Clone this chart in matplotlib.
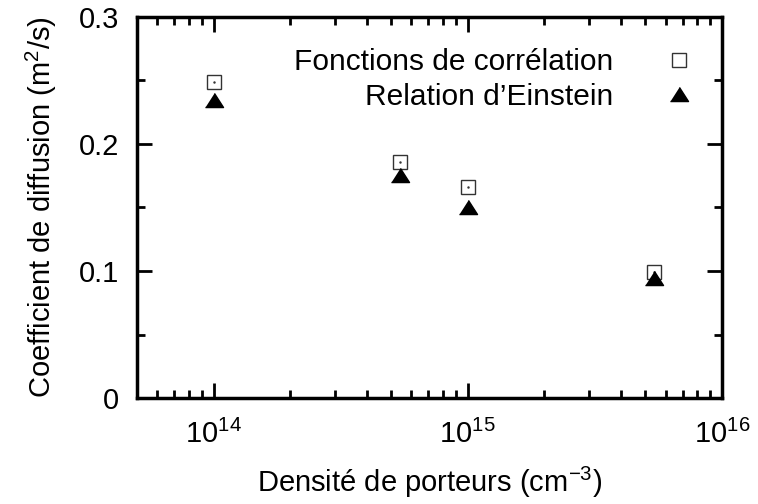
import matplotlib
matplotlib.use("Agg")
import matplotlib.pyplot as plt
from matplotlib.ticker import LogLocator, MultipleLocator, FixedLocator

plt.rcParams['font.family'] = ['Liberation Sans', 'DejaVu Sans']
plt.rcParams['mathtext.fontset'] = 'custom'
plt.rcParams['mathtext.rm'] = 'Liberation Sans'

# data
densite = [1e14, 5.4e14, 1e15, 5.4e15]
correlation = [0.249, 0.186, 0.166, 0.099]
einstein = [0.235, 0.1755, 0.150, 0.0945]

fig = plt.figure(figsize=(7.58, 5.04), dpi=100)
ax = fig.add_axes([0.1807, 0.2103, 0.7718, 0.756])

tri = [(-1, -0.78), (1, -0.78), (0, 0.78)]

ax.plot(densite, correlation, linestyle='none', marker='s', markersize=10.5,
        markerfacecolor='none', markeredgecolor='#333333', markeredgewidth=1.0,
        label='Fonctions de corrélation')
ax.plot(densite, correlation, linestyle='none', marker='.', markersize=1.5,
        color='#333333')
ax.plot(densite, einstein, linestyle='none', marker=tri, markersize=13,
        color='black', label='Relation d\u2019Einstein')

ax.set_xscale('log')
ax.set_xlim(5e13, 1e16)
ax.set_ylim(0, 0.3)

ax.xaxis.set_major_locator(FixedLocator([1e14, 1e15, 1e16]))
ax.xaxis.set_minor_locator(LogLocator(base=10, subs=range(2, 10), numticks=20))
ax.yaxis.set_major_locator(FixedLocator([0, 0.1, 0.2, 0.3]))
ax.yaxis.set_minor_locator(MultipleLocator(0.05))
ax.set_yticklabels(['0', '0.1', '0.2', '0.3'])

ax.tick_params(which='both', direction='in', top=True, right=True,
               labelsize=21, width=2)
ax.tick_params(axis='x', pad=16)
ax.tick_params(axis='y', pad=13)
ax.tick_params(which='major', length=11)
ax.tick_params(which='minor', length=6)
for s in ax.spines.values():
    s.set_linewidth(2.5)

ax.set_xlabel('Densité de porteurs (cm$^{-3}$)', fontsize=21, labelpad=11)
ax.set_ylabel('Coefficient de diffusion (m$^2$/s)', fontsize=21, labelpad=14)

ax.legend(loc='upper right', bbox_to_anchor=(1.01, 1.0), markerfirst=False,
          frameon=False, fontsize=21.5, handlelength=1.2, handletextpad=1.6,
          labelspacing=0.22, borderaxespad=0.65)

fig.savefig('out.png', dpi=100)
